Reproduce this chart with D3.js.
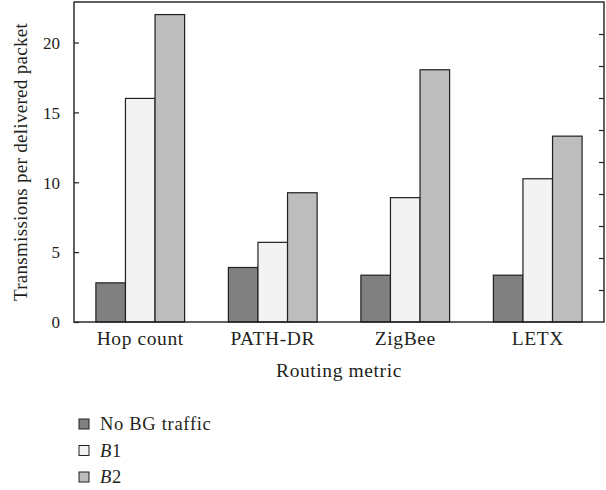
<!DOCTYPE html>
<html><head><meta charset="utf-8">
<script src="https://cdn.jsdelivr.net/npm/d3@7"></script>
<style>
body{margin:0;background:#fff;}
text{font-family:"Liberation Serif","Times New Roman",serif;fill:#231f20;}
</style></head>
<body><svg id="c" width="606" height="490"></svg>
<script>
const categories = ["Hop count", "PATH-DR", "ZigBee", "LETX"];
const seriesNames = ["No BG traffic", "B1", "B2"];
const noBG = [2.8, 3.9, 3.35, 3.35];
const b1 = [16.0, 5.7, 8.9, 10.25];
const b2 = [22.0, 9.25, 18.05, 13.3];
const yTicks = [0, 5, 10, 15, 20];
const colors = ["#808080", "#f2f3f2", "#bdbdbd"];

const svg = d3.select("#c");
const L = 74, R = 604, T = 2, B = 322;
const values = [noBG, b1, b2];

const x0 = d3.scaleBand().domain(categories).range([L, R]).padding(0);
const x1 = d3.scaleBand().domain(seriesNames).range([0, x0.bandwidth()]).paddingInner(0).paddingOuter(0.74);
const y = d3.scaleLinear().domain([0, 22.9]).range([B, T]);

// bars
categories.forEach((c, i) => {
  const g = svg.append("g").attr("transform", `translate(${x0(c)},0)`);
  seriesNames.forEach((s, j) => {
    g.append("rect")
      .attr("x", x1(s)).attr("width", x1.bandwidth())
      .attr("y", y(values[j][i])).attr("height", y(0) - y(values[j][i]))
      .attr("fill", colors[j]).attr("stroke", "#231f20").attr("stroke-width", 1.2);
  });
});

// left axis
const yAxis = d3.axisLeft(y).tickValues(yTicks).tickSizeInner(-5).tickSizeOuter(0).tickPadding(14);
const ga = svg.append("g").attr("transform", `translate(${L},0)`).call(yAxis);
ga.select(".domain").remove();
ga.selectAll("line").attr("stroke", "#231f20").attr("stroke-width", 1.2);
ga.selectAll("text").style("font-size", "17px").attr("fill", "#231f20").attr("dy", "0.34em");

// right axis ticks (unlabelled, 10 divisions)
const yR = d3.scaleLinear().domain([0, 10]).range([B, T]);
const rAxis = d3.axisRight(yR).tickValues(d3.range(1, 10)).tickSizeInner(-5).tickSizeOuter(0).tickFormat("");
const gr = svg.append("g").attr("transform", `translate(${R},0)`).call(rAxis);
gr.select(".domain").remove();
gr.selectAll("line").attr("stroke", "#231f20").attr("stroke-width", 1.2);

// frame
svg.append("rect").attr("x", L).attr("y", T).attr("width", R - L).attr("height", B - T)
  .attr("fill", "none").attr("stroke", "#231f20").attr("stroke-width", 1.4);

// x labels
const xAxis = d3.axisBottom(x0).tickSize(0).tickPadding(0);
const gx = svg.append("g").attr("transform", `translate(0,${B})`).call(xAxis);
gx.select(".domain").remove();
gx.selectAll("text").attr("dy", null).attr("y", 23).style("font-size", "19.5px")
  .style("letter-spacing", "0.6px").attr("fill", "#231f20");

svg.append("text").attr("x", (L + R) / 2).attr("y", 377).attr("text-anchor", "middle")
  .style("font-size", "19.5px").style("letter-spacing", "0.6px").text("Routing metric");

svg.append("text").attr("transform", `translate(27,${(T + B) / 2}) rotate(-90)`)
  .attr("text-anchor", "middle").style("font-size", "19px").style("letter-spacing", "0.3px")
  .text("Transmissions per delivered packet");

// legend
const leg = svg.append("g");
seriesNames.forEach((s, j) => {
  const yy = 430 + j * 26.5;
  leg.append("rect").attr("x", 79).attr("y", yy - 11).attr("width", 10).attr("height", 10)
    .attr("fill", colors[j]).attr("stroke", "#231f20").attr("stroke-width", 1);
  const t = leg.append("text").attr("x", 100).attr("y", yy).style("font-size", "18.5px")
    .style("letter-spacing", "0.7px");
  const m = s.match(/^B(\d)$/);
  if (m) {
    t.append("tspan").style("font-style", "italic").text("B");
    t.append("tspan").text(m[1]);
  } else t.text(s);
});
</script></body></html>
